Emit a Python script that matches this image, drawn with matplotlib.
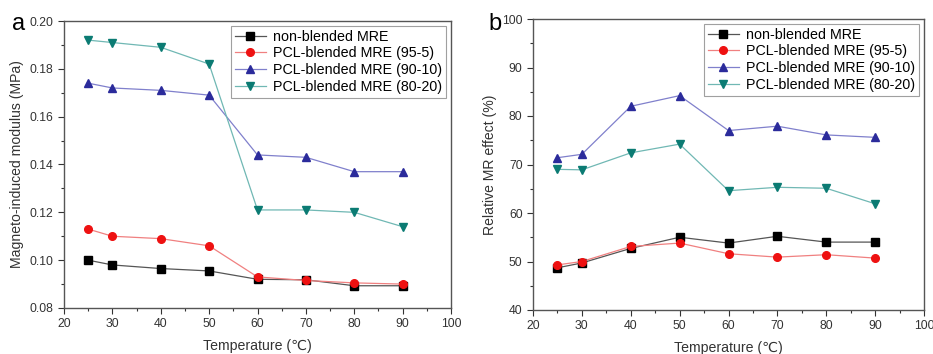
import numpy as np
import matplotlib
matplotlib.use("Agg")
import matplotlib.pyplot as plt
from matplotlib.ticker import MultipleLocator

plt.rcParams['font.family'] = ['Liberation Sans', 'DejaVu Sans']

temps = [25, 30, 40, 50, 60, 70, 80, 90]
labels = ["non-blended MRE", "PCL-blended MRE (95-5)",
          "PCL-blended MRE (90-10)", "PCL-blended MRE (80-20)"]

# panel a: magneto-induced modulus (MPa)
mod_non = [0.100, 0.098, 0.0965, 0.0955, 0.092, 0.0918, 0.0893, 0.0893]
mod_95 = [0.113, 0.110, 0.109, 0.106, 0.093, 0.0915, 0.0905, 0.090]
mod_90 = [0.174, 0.172, 0.171, 0.169, 0.144, 0.143, 0.137, 0.137]
mod_80 = [0.192, 0.191, 0.189, 0.182, 0.121, 0.121, 0.120, 0.114]

# panel b: relative MR effect (%)
mr_non = [48.7, 49.7, 52.7, 55.0, 53.8, 55.2, 54.0, 54.0]
mr_95 = [49.3, 50.0, 53.1, 53.8, 51.6, 50.9, 51.4, 50.7]
mr_90 = [71.4, 72.1, 82.0, 84.2, 77.0, 77.9, 76.1, 75.6]
mr_80 = [69.0, 68.9, 72.4, 74.2, 64.6, 65.3, 65.1, 61.9]

styles = [dict(marker='s', color='black', mfc='black', line='#555555'),
          dict(marker='o', color='#ee1111', mfc='#ee1111', line='#f08080'),
          dict(marker='^', color='#2b2b9b', mfc='#2b2b9b', line='#8080cc'),
          dict(marker='v', color='#0b7b73', mfc='#0b7b73', line='#70b8b4')]

fig = plt.figure(figsize=(9.33, 3.54), dpi=100)
axa = fig.add_axes([64/933, 1-308/354, 387/933, 287/354])
axb = fig.add_axes([533/933, 1-310/354, 391/933, 291/354])


def draw(ax, series, ylim, ymaj, ymin, ylabel, fmt):
    for s, st, lab in zip(series, styles, labels):
        ax.plot(temps, s, color=st['line'], lw=0.9, marker=st['marker'],
                ms=5.5, mfc=st['mfc'], mec=st['color'], label=lab)
    ax.set_xlim(20, 100)
    ax.set_ylim(*ylim)
    ax.xaxis.set_major_locator(MultipleLocator(10))
    ax.xaxis.set_minor_locator(MultipleLocator(5))
    ax.yaxis.set_major_locator(MultipleLocator(ymaj))
    ax.yaxis.set_minor_locator(MultipleLocator(ymin))
    ax.yaxis.set_major_formatter(fmt)
    ax.tick_params(which='both', direction='out', top=False, right=False,
                   labelsize=8.8, colors='#333333', width=0.8)
    ax.tick_params(which='major', length=4)
    ax.tick_params(which='minor', length=2.5)
    for sp in ax.spines.values():
        sp.set_color('#555555')
        sp.set_linewidth(1.0)
    ax.set_xlabel("Temperature (\u2103)", fontsize=10.2, color='#333333', labelpad=6)
    ax.set_ylabel(ylabel, fontsize=10.1, color='#333333')
    leg = ax.legend(loc='upper right', fontsize=10.3, frameon=True, fancybox=False,
                    edgecolor='#888888', handlelength=2.2, borderpad=0.25,
                    labelspacing=0.2, handletextpad=0.5, borderaxespad=0.35)
    leg.get_frame().set_linewidth(0.8)


draw(axa, [mod_non, mod_95, mod_90, mod_80], (0.08, 0.20), 0.02, 0.01,
     "Magneto-induced modulus (MPa)", plt.FormatStrFormatter('%.2f'))
draw(axb, [mr_non, mr_95, mr_90, mr_80], (40, 100), 10, 5,
     "Relative MR effect (%)", plt.FormatStrFormatter('%d'))

fig.text(12/933, 1-24/354, "a", fontsize=17, va='center')
fig.text(488/933, 1-24/354, "b", fontsize=17, va='center')

fig.savefig("out.png", dpi=100)
